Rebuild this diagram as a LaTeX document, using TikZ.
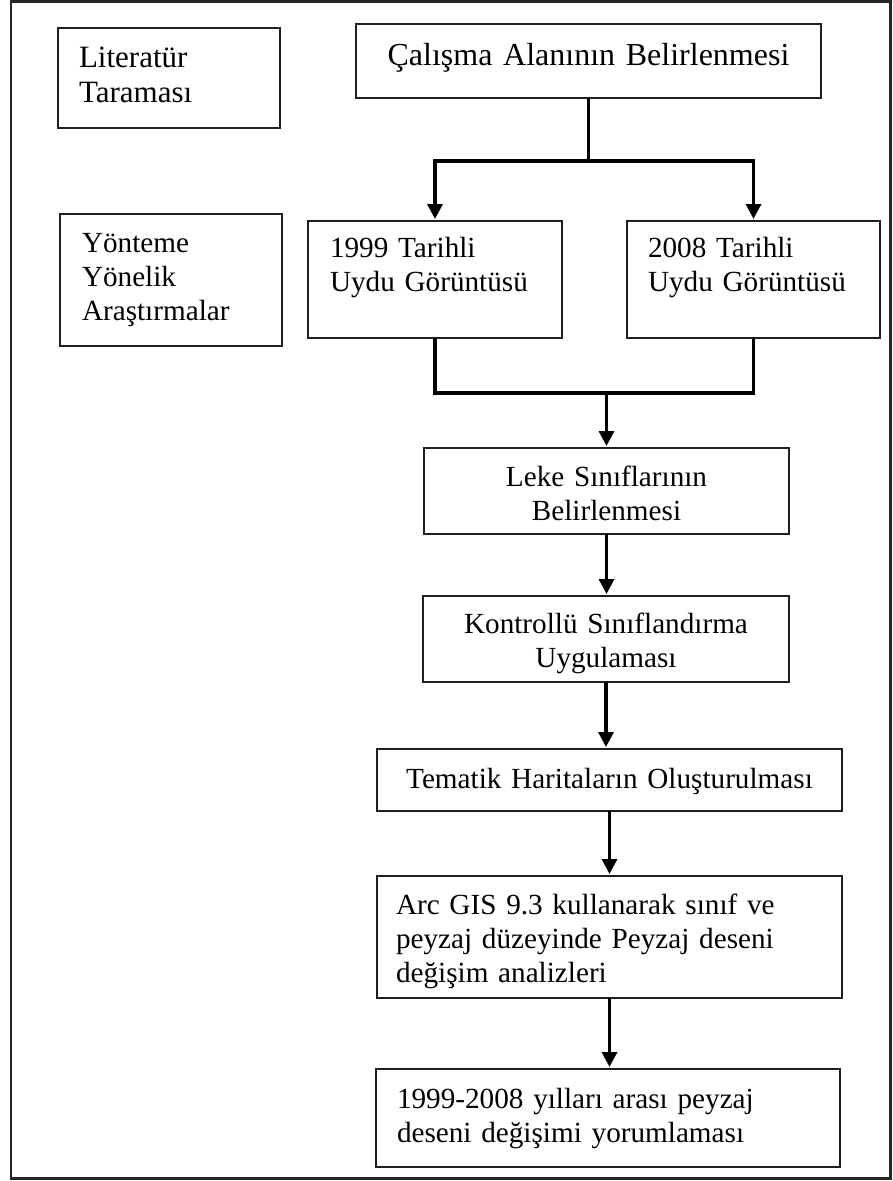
\documentclass[tikz,border=0pt]{standalone}
\usepackage{fontspec}
\setmainfont{Liberation Serif}
\usetikzlibrary{arrows.meta,calc}
\begin{document}
\begin{tikzpicture}[x=1pt,y=-1pt,
  every node/.style={inner sep=0pt, outer sep=0pt},
  stepbox/.style={draw=black!88, line width=2pt, anchor=north west,
    inner ysep=0pt, font=\fontsize{29.2}{34}\selectfont},
  leftbox/.style={stepbox, align=left},
  midbox/.style={stepbox, align=center},
  conn/.style={line width=3.3pt, black},
  arr/.style={conn, -{Triangle[width=15pt,length=15pt]}, shorten >=2pt},
]
\useasboundingbox (0,0) rectangle (892,1181);

% outer frame
\draw[line width=2.5pt, black!85] (11,1.5) rectangle (890.5,1178.5);

% side notes
\node[leftbox, font=\fontsize{31}{35}\selectfont, inner xsep=21pt, text width=180pt,
      text height=39pt, text depth=61pt]
  (lit) at (58,28) {Literatür\\Taraması};
\node[leftbox, inner xsep=22pt, text width=178pt, text height=38pt, text depth=94pt]
  (yon) at (60,214) {Yönteme\\Yönelik\\Araştırmalar};

% main flow
\node[midbox, font=\fontsize{32}{36}\selectfont, text width=465pt, text height=41pt, text depth=33pt]
  (cal) at (356,24) {Çalışma Alanının Belirlenmesi};
\node[leftbox, inner xsep=22pt, text width=210pt, text height=36pt, text depth=81pt]
  (t99) at (308,221) {1999 Tarihli\\Uydu Görüntüsü};
\node[leftbox, inner xsep=21pt, text width=211pt, text height=36pt, text depth=81pt]
  (t08) at (627,221) {2008 Tarihli\\Uydu Görüntüsü};
\node[midbox, text width=365pt, text height=38pt, text depth=48pt]
  (leke) at (424,448) {Leke Sınıflarının\\Belirlenmesi};
\node[midbox, text width=366pt, text height=37pt, text depth=49pt]
  (kon) at (423,596) {Kontrollü Sınıflandırma\\Uygulaması};
\node[midbox, text width=465pt, text height=39pt, text depth=23pt]
  (tem) at (377,749) {Tematik Haritaların Oluşturulması};
\node[leftbox, inner xsep=19pt, text width=427pt, text height=38pt, text depth=84pt]
  (arc) at (377,876) {Arc GIS 9.3 kullanarak sınıf ve\\peyzaj düzeyinde Peyzaj deseni\\değişim analizleri};
\node[leftbox, inner xsep=21pt, text width=422pt, text height=39pt, text depth=59pt]
  (bot) at (376,1069) {1999-2008 yılları arası peyzaj\\deseni değişimi yorumlaması};

% connectors
\coordinate (split) at ($(cal.south)+(0,63)$);
\draw[conn] (cal.south) -- (split);
\draw[arr] (split) -| (t99.north);
\draw[arr] (split) -| (t08.north);

\coordinate (merge) at ($(leke.north |- t99.south)+(0,55)$);
\draw[conn] (t99.south) |- (merge) -| (t08.south);
\draw[arr] (merge) -- (leke.north);

\draw[arr] (leke.south) -- (leke.south |- kon.north);
\draw[arr] (kon.south) -- (kon.south |- tem.north);
\draw[arr] (tem.south) -- (tem.south |- arc.north);
\draw[arr] (arc.south) -- (arc.south |- bot.north);
\end{tikzpicture}
\end{document}
